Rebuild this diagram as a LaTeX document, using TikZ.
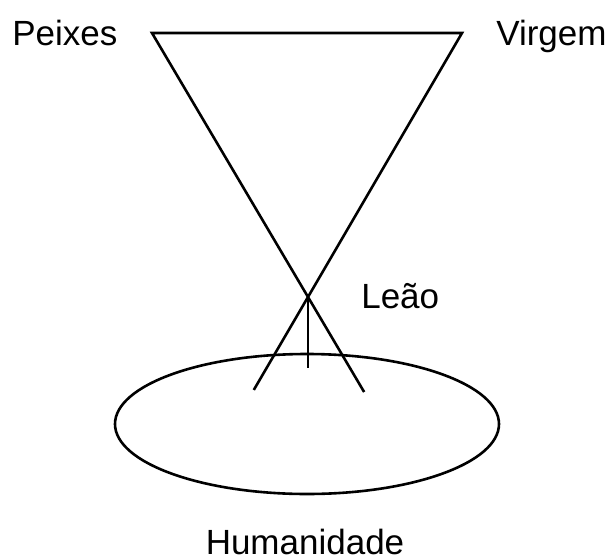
\documentclass[tikz,border=0pt]{standalone}
\usepackage{fontspec}
\setmainfont{Liberation Sans}
\usetikzlibrary{calc}

\begin{document}
\begin{tikzpicture}[x=1pt,y=-1pt,line width=2.6pt,font=\fontsize{35}{42}\selectfont]
\useasboundingbox (0,0) rectangle (611,560);
\def\cx{307} \def\cy{424} \def\rx{192} \def\ry{70}
% triangle corners and the crossing
\coordinate (pl) at (152,33);
\coordinate (pr) at (462,33);
\coordinate (x) at (308,297);
\coordinate (xb) at (308,368);
\draw[line join=miter] ($(pl)!1.36!(x)$) -- (pl) -- (pr) -- ($(pr)!1.352!(x)$);
\draw (x) -- (xb);
\draw (\cx,\cy) ellipse [x radius=\rx, y radius=\ry];
% labels
\node[anchor=base west,inner sep=0pt] (peixes) at (11,45) {Peixes};
\node[anchor=base west,inner sep=0pt] (virgem) at (495,45) {Virgem};
\node[anchor=base west,inner sep=0pt] (leao) at (360,308) {Leão};
\node[anchor=base,inner sep=0pt] (hum) at (305,554) {Humanidade};
\end{tikzpicture}
\end{document}
